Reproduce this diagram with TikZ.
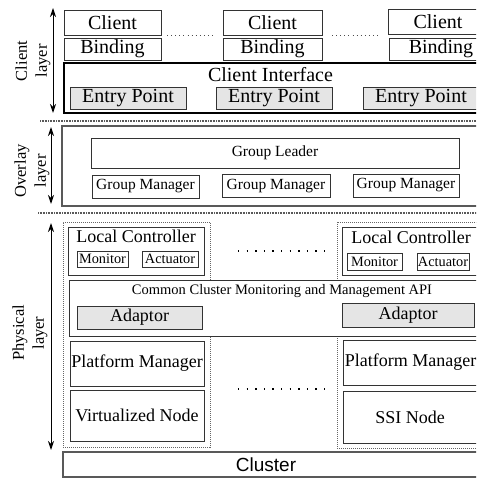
\documentclass[tikz,border=0pt]{standalone}
\usepackage{fontspec}
\setmainfont{Liberation Serif}
\newfontfamily\clsans{Liberation Sans}
\usetikzlibrary{arrows.meta}
\begin{document}
\begin{tikzpicture}[x=1pt,y=-1pt,
  bx/.style={draw=black!80, line width=0.8pt, fill=white, inner sep=0pt, anchor=center},
  gbx/.style={bx, fill=black!10},
  fA/.style={font=\fontsize{20}{24}\selectfont},
  fB/.style={font=\fontsize{18}{22}\selectfont},
  fC/.style={font=\fontsize{15.5}{18}\selectfont},
  fD/.style={font=\fontsize{14.3}{17}\selectfont},
  layerlbl/.style={rotate=90, align=center, inner sep=0pt, font=\fontsize{16.5}{20}\selectfont},
  sepline/.style={draw=black!65, line width=2pt, dash pattern=on 0.8pt off 0.8pt},
  physbox/.style={draw=black!60, line width=1pt, dash pattern=on 1pt off 1pt, inner sep=0pt},
  fewdots/.style={draw=black!70, line width=0.9pt, dash pattern=on 0.9pt off 3.2pt},
  sparsedots/.style={draw=black, line width=1.3pt, dash pattern=on 1.3pt off 7.3pt},
  layerarrow/.style={draw=black, line width=1pt, {Stealth[length=9pt,width=6pt]}-{Stealth[length=9pt,width=6pt]}}
]
\useasboundingbox (0,0) rectangle (476,478);
\clip (0,0) rectangle (476,478);

% ---------------- Client layer ----------------
\node[bx, draw=black, line width=1.1pt, minimum width=426pt, minimum height=50pt] (ci) at (277,88) {};
\node[fA, inner sep=0pt] (citext) at (270.5,75) {Client Interface};
\node[gbx, fA, minimum width=116pt, minimum height=22pt] (ep1) at (128,98) {Entry Point};
\node[gbx, fA, minimum width=116pt, minimum height=22pt] (ep2) at (274,98) {Entry Point};
\node[gbx, fA, minimum width=116pt, minimum height=22pt] (ep3) at (421,98) {Entry Point};

\node[bx, fA, minimum width=97pt, minimum height=25pt] (c1) at (112.5,22.5) {Client};
\node[bx, fA, minimum width=97pt, minimum height=22pt] (b1) at (112.5,49) {Binding};
\node[bx, fA, minimum width=99pt, minimum height=25pt] (c2) at (272.5,22.5) {Client};
\node[bx, fA, minimum width=99pt, minimum height=22pt] (b2) at (272.5,49) {Binding};
\node[bx, fA, minimum width=100pt, minimum height=25pt] (c3) at (438,22) {Client};
\node[bx, fA, minimum width=104pt, minimum height=22pt] (b3) at (441,49) {Binding};

\coordinate (d1a) at (167,35); \coordinate (d1b) at (213,35);
\coordinate (d2a) at (332,35); \coordinate (d2b) at (378,35);
\draw[fewdots] (d1a) -- (d1b);
\draw[fewdots] (d2a) -- (d2b);

\coordinate (ca1) at (53,8); \coordinate (ca2) at (53,113);
\draw[layerarrow] (ca1) -- (ca2);
\node[layerlbl] (cl) at (33,61) {Client\\layer};

\coordinate (s1a) at (40,121); \coordinate (s1b) at (480,121);
\draw[sepline] (s1a) -- (s1b);

% ---------------- Overlay layer ----------------
\node[bx, draw=black!65, line width=1.5pt, minimum width=428pt, minimum height=80pt] (ov) at (276,166) {};
\node[bx, fC, minimum width=368pt, minimum height=30pt] (gl) at (275,153) {Group Leader};
\node[bx, fC, minimum width=107pt, minimum height=23pt] (gm1) at (145.5,186.5) {Group Manager};
\node[bx, fC, minimum width=108pt, minimum height=23pt] (gm2) at (276,186) {Group Manager};
\node[bx, fC, minimum width=106pt, minimum height=23pt] (gm3) at (406,185.5) {Group Manager};

\coordinate (oa1) at (51,127); \coordinate (oa2) at (51,204);
\draw[layerarrow] (oa1) -- (oa2);
\node[layerlbl] (ol) at (32,171) {Overlay\\layer};

\coordinate (s2a) at (38,213); \coordinate (s2b) at (480,213);
\draw[sepline] (s2a) -- (s2b);

% ---------------- Physical layer ----------------
\node[physbox, minimum width=147pt, minimum height=225pt] (pb1) at (136.5,334.5) {};
\node[physbox, minimum width=148pt, minimum height=226pt] (pb2) at (411,335) {};

\node[bx, minimum width=136pt, minimum height=48pt] (lc1) at (136,251) {};
\node[fB, inner sep=0pt, anchor=base] (lc1t) at (136,242) {Local Controller};
\node[bx, fD, minimum width=51pt, minimum height=16pt] (mon1) at (102.5,259) {Monitor};
\node[bx, fD, minimum width=56pt, minimum height=16pt] (act1) at (170,259) {Actuator};

\node[bx, minimum width=138pt, minimum height=48pt] (lc2) at (411,251) {};
\node[fB, inner sep=0pt, anchor=base] (lc2t) at (411,243) {Local Controller};
\node[bx, fD, minimum width=55pt, minimum height=17pt] (mon2) at (374.5,261.5) {Monitor};
\node[bx, fD, minimum width=52pt, minimum height=17pt] (act2) at (443,261.5) {Actuator};

\node[bx, minimum width=421pt, minimum height=56pt] (cc) at (279.5,308) {};
\node[font=\fontsize{14.5}{17}\selectfont, inner sep=0pt] (cct) at (282,291) {Common Cluster Monitoring and Management API};
\node[gbx, fB, minimum width=125pt, minimum height=23pt] (ad1) at (139.5,317.5) {Adaptor};
\node[gbx, fB, minimum width=132pt, minimum height=24pt] (ad2) at (408,315) {Adaptor};

\node[bx, fB, minimum width=134pt, minimum height=45pt] (pm1) at (137,363.5) {Platform Manager};
\node[bx, fB, minimum width=134pt, minimum height=51pt] (vn1) at (137,415.5) {Virtualized Node};
\node[bx, fB, minimum width=135pt, minimum height=45pt] (pm2) at (410.5,362.5) {Platform Manager};
\node[bx, fB, minimum width=134pt, minimum height=52pt] (ssi) at (410,417) {SSI Node};

\coordinate (pd1a) at (238,251); \coordinate (pd1b) at (326,251);
\coordinate (pd2a) at (238,389); \coordinate (pd2b) at (326,389);
\draw[sparsedots] (pd1a) -- (pd1b);
\draw[sparsedots] (pd2a) -- (pd2b);

\coordinate (pa1) at (51,223); \coordinate (pa2) at (51,450);
\draw[layerarrow] (pa1) -- (pa2);
\node[layerlbl] (pl) at (30,333) {Physical\\layer};

% ---------------- Cluster ----------------
\node[bx, draw=black!65, line width=1.5pt, minimum width=427pt, minimum height=25pt] (cl2) at (276.5,464.5) {};
\node[font=\clsans\fontsize{19}{22}\selectfont, inner sep=0pt] (clt) at (266,465) {Cluster};
\end{tikzpicture}
\end{document}
